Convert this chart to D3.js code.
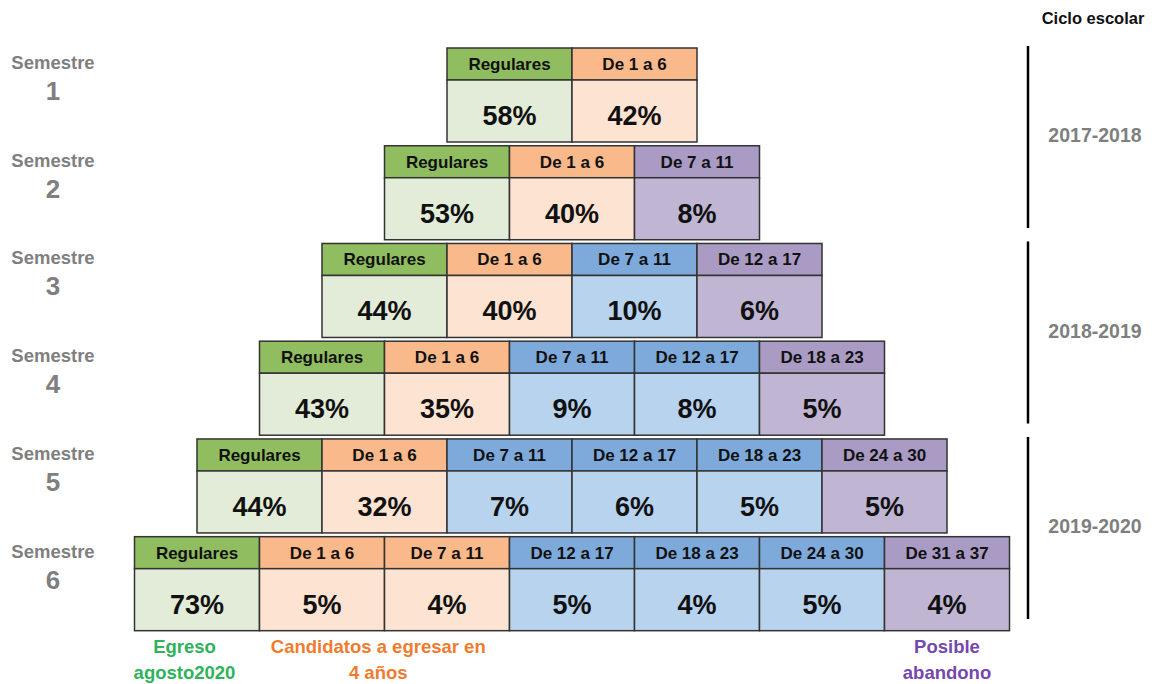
<!DOCTYPE html>
<html><head><meta charset="utf-8">
<script src="https://cdn.jsdelivr.net/npm/d3@7"></script>
<style>body{margin:0;background:#fff;} svg{display:block;font-family:"Liberation Sans",Arial,sans-serif;font-weight:bold;}</style>
</head><body>
<svg id="c" width="1160" height="684"></svg>
<script>
const semesters = [1, 2, 3, 4, 5, 6];
const rowLabels = [
  ["Regulares", "De 1 a 6"],
  ["Regulares", "De 1 a 6", "De 7 a 11"],
  ["Regulares", "De 1 a 6", "De 7 a 11", "De 12 a 17"],
  ["Regulares", "De 1 a 6", "De 7 a 11", "De 12 a 17", "De 18 a 23"],
  ["Regulares", "De 1 a 6", "De 7 a 11", "De 12 a 17", "De 18 a 23", "De 24 a 30"],
  ["Regulares", "De 1 a 6", "De 7 a 11", "De 12 a 17", "De 18 a 23", "De 24 a 30", "De 31 a 37"]
];
const rowValues = [
  [58, 42],
  [53, 40, 8],
  [44, 40, 10, 6],
  [43, 35, 9, 8, 5],
  [44, 32, 7, 6, 5, 5],
  [73, 5, 4, 5, 4, 5, 4]
];
const rowGroups = [
  ["egreso", "candidato"],
  ["egreso", "candidato", "abandono"],
  ["egreso", "candidato", "riesgo", "abandono"],
  ["egreso", "candidato", "riesgo", "riesgo", "abandono"],
  ["egreso", "candidato", "riesgo", "riesgo", "riesgo", "abandono"],
  ["egreso", "candidato", "candidato", "riesgo", "riesgo", "riesgo", "abandono"]
];
const cycles = ["2017-2018", "2018-2019", "2019-2020"];
const cycleSemesters = [[1, 2], [3, 4], [5, 6]];
const footLabels = [
  {lines: ["Egreso", "agosto2020"], group: "egreso", col: -0.1},
  {lines: ["Candidatos a egresar en", "4 años"], group: "candidato", col: 1.45},
  {lines: ["Posible", "abandono"], group: "abandono", col: 6}
];

const headFill = {egreso: "#8fbd5f", candidato: "#f9b98a", riesgo: "#7eaadb", abandono: "#a99bc3"};
const bodyFill = {egreso: "#e2ecd8", candidato: "#fde3d1", riesgo: "#b7d3ee", abandono: "#c0b6d4"};
const footColor = {egreso: "#2eb35c", candidato: "#f07b2f", abandono: "#7448ad"};

const svg = d3.select("#c");
const cellW = 125, headH = 32, bodyH = 62;
const center = 572;

const y = d3.scaleBand().domain(semesters).range([48, 631]).paddingInner(0.035).paddingOuter(0);
const bw = y.bandwidth();
// column offset scale: position relative to row center
const xOff = d3.scaleLinear().domain([0, 1]).range([0, cellW]);

semesters.forEach((s, r) => {
  const n = rowLabels[r].length;
  const x0 = center - xOff(n / 2);
  const g = svg.append("g");
  const top = y(s);
  const cells = rowLabels[r].map((lab, i) => ({lab, val: rowValues[r][i], grp: rowGroups[r][i], i}));
  const cg = g.selectAll("g.cell").data(cells).join("g");
  cg.append("rect")
    .attr("x", d => x0 + xOff(d.i)).attr("y", top)
    .attr("width", cellW).attr("height", headH)
    .attr("fill", d => headFill[d.grp]).attr("stroke", "#333").attr("stroke-width", 1.5);
  cg.append("rect")
    .attr("x", d => x0 + xOff(d.i)).attr("y", top + headH)
    .attr("width", cellW).attr("height", bodyH)
    .attr("fill", d => bodyFill[d.grp]).attr("stroke", "#333").attr("stroke-width", 1.5);
  cg.append("text")
    .attr("x", d => x0 + xOff(d.i + 0.5)).attr("y", top + headH / 2 + 6)
    .attr("text-anchor", "middle").attr("font-size", 17).attr("fill", "#111")
    .text(d => d.lab);
  cg.append("text")
    .attr("x", d => x0 + xOff(d.i + 0.5)).attr("y", top + headH + bodyH / 2 + 14)
    .attr("text-anchor", "middle").attr("font-size", 27).attr("fill", "#111")
    .text(d => d.val + "%");

  // semester label
  svg.append("text").attr("x", 53).attr("y", top + 21).attr("text-anchor", "middle")
    .attr("font-size", 18.5).attr("fill", "#7f7f7f").text("Semestre");
  svg.append("text").attr("x", 53).attr("y", top + 52).attr("text-anchor", "middle")
    .attr("font-size", 26).attr("fill", "#7f7f7f").text(s);
});

// Cycle markers
svg.append("text").attr("x", 1093).attr("y", 24).attr("text-anchor", "middle")
  .attr("font-size", 16.5).attr("fill", "#111").text("Ciclo escolar");
cycles.forEach((c, k) => {
  const [a, b] = cycleSemesters[k];
  const y1 = y(a) - 2, y2 = y(b) + bw - 12;
  svg.append("line").attr("x1", 1028).attr("x2", 1028).attr("y1", y1).attr("y2", y2)
    .attr("stroke", "#000").attr("stroke-width", 2.5);
  svg.append("text").attr("x", 1095).attr("y", (y1 + y2) / 2 + 5).attr("text-anchor", "middle")
    .attr("font-size", 19.5).attr("fill", "#7f7f7f").text(c);
});

// Footer labels
const lastN = rowLabels[rowLabels.length - 1].length;
const lastX0 = center - xOff(lastN / 2);
footLabels.forEach(f => {
  const cx = lastX0 + xOff(f.col + 0.5);
  f.lines.forEach((ln, j) => {
    svg.append("text").attr("x", cx).attr("y", 653 + j * 26).attr("text-anchor", "middle")
      .attr("font-size", 18.5).attr("fill", footColor[f.group]).text(ln);
  });
});
</script>
</body></html>
